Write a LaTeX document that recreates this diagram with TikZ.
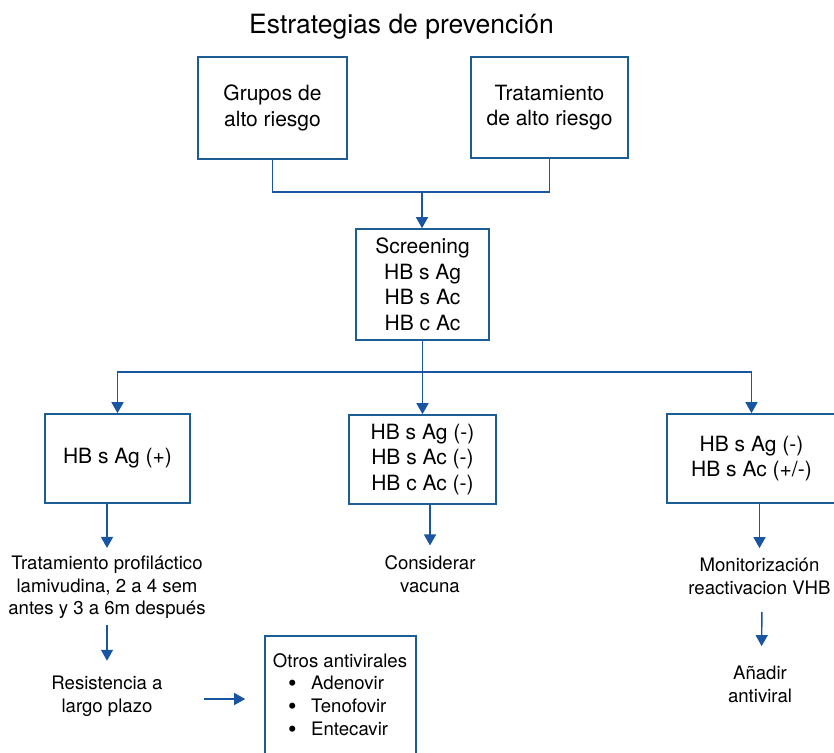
\documentclass[tikz,border=0pt]{standalone}
\usepackage{fontspec}
\setmainfont{TeX Gyre Heros}
\usetikzlibrary{arrows.meta}
\definecolor{boxcol}{RGB}{28,94,148}
\definecolor{linecol}{RGB}{25,85,160}
\newcommand{\bigbullet}{\makebox[23pt][l]{\raisebox{-2pt}{\scalebox{1.3}{\textbullet}}}}
\tikzset{
  box/.style = {draw=boxcol, line width=1.6pt, align=center,
                inner sep=0pt, font=\fontsize{21}{25.5}\selectfont},
  txt/.style = {align=center, inner sep=10pt,
                font=\fontsize{18.6}{22.5}\selectfont},
  item/.style = {anchor=base west, inner sep=0pt,
                 font=\fontsize{18.6}{22.5}\selectfont},
  arr/.style = {draw=linecol, line width=1.4pt,
                -{Triangle[width=12pt,length=11pt]}},
  conn/.style = {draw=linecol, line width=1.4pt}
}

\begin{document}
\begin{tikzpicture}[x=1pt, y=-1pt]
	\useasboundingbox (0,0) rectangle (834,752);
	\clip (0,0) rectangle (834,752);

	% Title
	\node[anchor=base, inner sep=0pt, font=\fontsize{26.5}{32}\selectfont] (title) at (401.5,34) {Estrategias de prevención};

	% Boxes
	\node[box, minimum width=149, minimum height=102] (grupos) at (272.5,108) {Grupos de\\alto riesgo};
	\node[box, minimum width=157, minimum height=101] (trat) at (549.5,107.5) {Tratamiento\\de alto riesgo};
	\node[box, minimum width=133, minimum height=111] (screening) at (422.5,284.5) {Screening\\HB s Ag\\HB s Ac\\HB c Ac};
	\node[box, minimum width=145, minimum height=89] (agpos) at (117.5,458.5) {HB s Ag (+)};
	\node[box, minimum width=147, minimum height=89] (neg) at (422.5,459.5) {HB s Ag (-)\\HB s Ac (-)\\HB c Ac (-)};
	\node[box, minimum width=169, minimum height=89] (mon) at (751.5,458.5) {HB s Ag (-)\\HB s Ac (+/-)};
	\node[box, minimum width=151, minimum height=130, anchor=north] (otros) at (340.5,635) {};

	% Texts
	\node[txt] (prof) at (107,587.5) {Tratamiento profiláctico\\lamivudina, 2 a 4 sem\\antes y 3 a 6m después};
	\node[txt] (resist) at (107,696) {Resistencia a\\largo plazo};
	\node[txt] (consid) at (430,574) {Considerar\\vacuna};
	\node[txt] (monit) at (759.5,576.5) {Monitorización\\reactivacion VHB};
	\node[txt] (anadir) at (760,684.5) {Añadir\\antiviral};

	% Otros antivirales
	\node[item, anchor=base] (otroslbl) at (340,667) {Otros antivirales};
	\node[item] (adenovir) at (288,689) {\bigbullet Adenovir};
	\node[item] (tenofovir) at (288,712) {\bigbullet Tenofovir};
	\node[item] (entecavir) at (288,735) {\bigbullet Entecavir};

	% Connectors (top)
	\coordinate (split) at (422,192);
	\draw[conn] (grupos.south) |- (split) -| (trat.south);
	\draw[arr] (split) -- (split |- screening.north);

	% Connectors (screening)
	\coordinate (hub) at (422.5,372);
	\draw[arr] (screening.south) -- (neg.north);
	\draw[arr] (hub) -| (agpos.north);
	\draw[arr] (hub) -| (mon.north);

	% Connectors (bottom)
	\draw[arr, shorten >=-2pt] (agpos.south -| prof.north) -- (prof.north);
	\draw[arr, shorten <=-4pt, shorten >=5pt] (prof.south) -- (resist.north);
	\draw[arr, shorten <=31pt, shorten >=19pt] ([yshift=-3pt]resist.east) -- ([yshift=-3pt]resist.east -| otros.west);
	\draw[arr] (neg.south -| consid.north) -- (consid.north);
	\draw[arr] (mon.south -| monit.north) -- (monit.north);
	\draw[arr, shorten <=7pt, shorten >=10pt] ([xshift=2.5pt]monit.south) -- ([xshift=2pt]monit.south |- anadir.north);
\end{tikzpicture}
\end{document}
